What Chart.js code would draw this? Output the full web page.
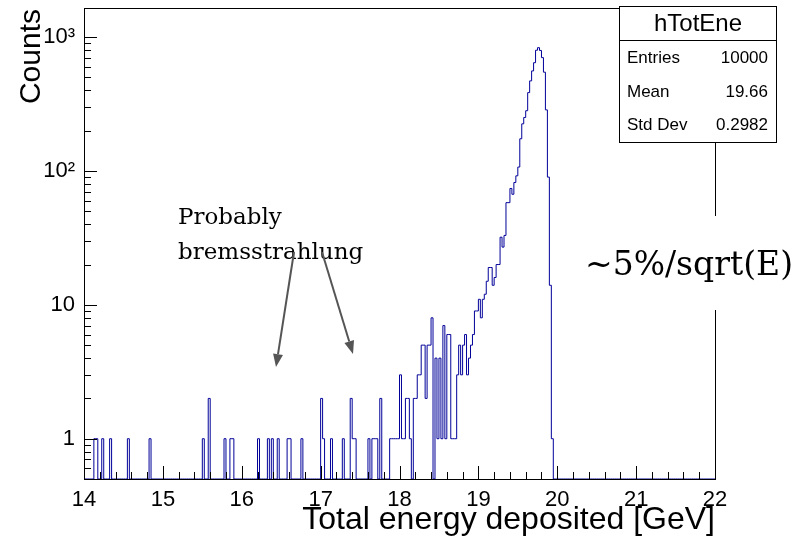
<!DOCTYPE html>
<html>
<head>
<meta charset="utf-8">
<script src="https://cdn.jsdelivr.net/npm/chart.js@4.4.1/dist/chart.umd.min.js"></script>
<style>
  html, body { margin: 0; padding: 0; background: #ffffff; }
  #wrap { width: 799px; height: 537px; position: relative; }
</style>
</head>
<body>
<div id="wrap"><canvas id="c" width="799" height="537"></canvas></div>
<script>
// Histogram binning (GeV)
const X_MIN = 14, X_MAX = 22, BIN_WIDTH = 0.025;
// Log-scale vertical range
const Y_MIN = 0.5, Y_MAX = 1650;

// Non-empty bins: index from X_MIN in steps of BIN_WIDTH, and entries in that bin
const binIndex = [
  5, 6, 9, 13, 22, 33, 60, 63, 71, 74, 75, 88, 93, 95, 98, 103, 104, 110,
  120, 121, 125, 131, 135, 136, 137, 144, 146, 147, 148, 150,
  155, 156, 157, 158, 159, 160, 161, 162, 163, 164, 165, 167, 168, 169, 170,
  171, 172, 173, 174, 175, 176, 178, 179, 180, 181, 182, 183, 184, 185, 186,
  187, 188, 189, 190, 191, 192, 193, 194, 195, 196, 197, 198, 199, 200, 201,
  202, 203, 204, 205, 206, 207, 208, 209, 210, 211, 212, 213, 214, 215, 216,
  217, 218, 219, 220, 221, 222, 223, 224, 225, 226, 227, 228, 229, 230, 231,
  232, 233, 234, 235, 236, 237
];
const binCount = [
  1, 1, 1, 1, 1, 1, 1, 2, 1, 1, 1, 1, 1, 1, 1, 1, 1, 1,
  2, 1, 1, 1, 2, 1, 1, 1, 1, 1, 1, 2,
  1, 1, 1, 1, 1, 3, 1, 1, 2, 2, 1, 2, 2, 3, 3,
  5, 5, 2, 5, 5, 8, 4, 1, 4, 1, 7, 1, 6, 6, 1,
  1, 1, 3, 5, 3, 5, 6, 3, 4, 5, 6, 9, 9, 11, 8,
  11, 12, 15, 19, 19, 14, 16, 20, 20, 32, 27, 33, 58, 58, 74,
  67, 82, 92, 107, 174, 225, 251, 282, 385, 471, 559, 644, 798, 834, 795,
  703, 547, 286, 90, 14, 1
];

const xTickValues = [14, 15, 16, 17, 18, 19, 20, 21, 22];
const yTickValues = [1, 10, 100, 1000];
const yTickLabels = ['1', '10', '10\u00B2', '10\u00B3'];

const xTitle = 'Total energy deposited [GeV]';
const yTitle = 'Counts';
const statsTitle = 'hTotEne';
const statsNames = ['Entries', 'Mean', 'Std Dev'];
const statsValues = ['10000', '19.66', '0.2982'];
const noteLines = ['Probably', 'bremsstrahlung'];
const resolutionNote = '~5%/sqrt(E)';

// Outline points: one per bin low edge, closed at the upper edge of the range
const nBins = Math.round((X_MAX - X_MIN) / BIN_WIDTH);
const countsByBin = new Array(nBins).fill(0);
binIndex.forEach((b, i) => { countsByBin[b] = binCount[i]; });
const histPoints = countsByBin.map((c, b) => ({ x: X_MIN + b * BIN_WIDTH, y: c > 0 ? c : Y_MIN }));
histPoints.push({ x: X_MAX, y: Y_MIN });

const SANS = '"Liberation Sans", Arial, Helvetica, sans-serif';
const SERIF = '"DejaVu Serif", "Liberation Serif", serif';

function arrow(ctx, x0, y0, x1, y1) {
  const a = Math.atan2(y1 - y0, x1 - x0), L = 13, W = 5;
  ctx.beginPath();
  ctx.moveTo(x0, y0);
  ctx.lineTo(x1 - L * Math.cos(a), y1 - L * Math.sin(a));
  ctx.stroke();
  ctx.beginPath();
  ctx.moveTo(x1, y1);
  ctx.lineTo(x1 - L * Math.cos(a) + W * Math.sin(a), y1 - L * Math.sin(a) - W * Math.cos(a));
  ctx.lineTo(x1 - L * Math.cos(a) - W * Math.sin(a), y1 - L * Math.sin(a) + W * Math.cos(a));
  ctx.closePath();
  ctx.fill();
}

function noEdgePadding(s) {
  s.paddingTop = 0; s.paddingBottom = 0; s.paddingLeft = 0; s.paddingRight = 0;
}

const frameAndDecor = {
  id: 'frameAndDecor',
  afterDatasetsDraw(chart) {
    const { ctx, chartArea: a, scales } = chart;
    const xs = scales.x, ys = scales.y;
    ctx.save();
    ctx.strokeStyle = '#000';
    ctx.lineWidth = 1;
    // frame
    ctx.strokeRect(Math.round(a.left) + 0.5, Math.round(a.top) + 0.5,
                   Math.round(a.right - a.left), Math.round(a.bottom - a.top));
    // x ticks, drawn inward from the bottom axis
    ctx.beginPath();
    for (let k = 0; k <= 40; k++) {
      const v = X_MIN + k * 0.2;
      const px = Math.round(xs.getPixelForValue(v)) + 0.5;
      const len = (k % 5 === 0) ? 13 : 7;
      ctx.moveTo(px, a.bottom);
      ctx.lineTo(px, a.bottom - len);
    }
    // y ticks (log), drawn inward from the left axis
    for (let d = -1; d <= 3; d++) {
      for (let m = 1; m <= 9; m++) {
        const v = m * Math.pow(10, d);
        if (v < Y_MIN || v > Y_MAX) continue;
        const py = Math.round(ys.getPixelForValue(v)) + 0.5;
        const len = (m === 1) ? 13 : 7;
        ctx.moveTo(a.left, py);
        ctx.lineTo(a.left + len, py);
      }
    }
    ctx.stroke();
    ctx.restore();
  },
  afterDraw(chart) {
    const { ctx, chartArea: a } = chart;
    ctx.save();
    ctx.fillStyle = '#000';

    // axis titles
    ctx.font = '32px ' + SANS;
    ctx.textAlign = 'right';
    ctx.textBaseline = 'alphabetic';
    ctx.fillText(xTitle, a.right, 529);
    ctx.font = '30px ' + SANS;
    ctx.save();
    ctx.translate(40, a.top + 1);
    ctx.rotate(-Math.PI / 2);
    ctx.fillText(yTitle, 0, 0);
    ctx.restore();

    // statistics box
    const bx = 619.5, by = 6.5, bw = 157, bh = 136;
    ctx.fillStyle = '#fff';
    ctx.fillRect(bx, by, bw, bh);
    ctx.strokeStyle = '#000';
    ctx.lineWidth = 1;
    ctx.strokeRect(bx, by, bw, bh);
    ctx.beginPath();
    ctx.moveTo(bx, 40.5);
    ctx.lineTo(bx + bw, 40.5);
    ctx.stroke();
    ctx.fillStyle = '#000';
    ctx.font = '24px ' + SANS;
    ctx.textAlign = 'center';
    ctx.textBaseline = 'middle';
    ctx.fillText(statsTitle, bx + bw / 2, 24);
    ctx.font = '17px ' + SANS;
    const rowY = [58, 92, 125];
    statsNames.forEach((n, i) => {
      ctx.textAlign = 'left';
      ctx.fillText(n, 627, rowY[i]);
      ctx.textAlign = 'right';
      ctx.fillText(statsValues[i], 768, rowY[i]);
    });

    // resolution note, on a white patch over the frame edge
    ctx.font = '33px ' + SERIF;
    ctx.textAlign = 'left';
    ctx.textBaseline = 'middle';
    const w = ctx.measureText(resolutionNote).width;
    ctx.fillStyle = '#fff';
    ctx.fillRect(583, 216, w + 6, 94);
    ctx.fillStyle = '#000';
    ctx.fillText(resolutionNote, 585, 266);

    // bremsstrahlung note with arrows
    ctx.font = '23px ' + SERIF;
    ctx.fillText(noteLines[0], 178, 218);
    ctx.fillText(noteLines[1], 178, 253);
    ctx.strokeStyle = '#555';
    ctx.fillStyle = '#555';
    ctx.lineWidth = 2;
    arrow(ctx, 294, 252, 276, 367);
    arrow(ctx, 322, 252, 353, 354);
    ctx.restore();
  }
};

new Chart(document.getElementById('c'), {
  type: 'line',
  data: {
    datasets: [{
      data: histPoints,
      stepped: true,
      borderColor: '#000099',
      borderWidth: 1,
      pointRadius: 0,
      fill: false
    }]
  },
  options: {
    responsive: false,
    animation: false,
    devicePixelRatio: 1,
    layout: { padding: { left: 0, top: 8, right: 84, bottom: 0 } },
    plugins: { legend: { display: false }, tooltip: { enabled: false } },
    scales: {
      x: {
        type: 'linear', min: X_MIN, max: X_MAX,
        grid: { display: false, drawTicks: false },
        border: { display: false },
        afterBuildTicks: s => { s.ticks = xTickValues.map(v => ({ value: v })); },
        afterFit: s => { s.height = 58; noEdgePadding(s); },
        ticks: { color: '#000', font: { family: SANS, size: 22 }, padding: 8, maxRotation: 0,
                 callback: v => String(v) }
      },
      y: {
        type: 'logarithmic', min: Y_MIN, max: Y_MAX,
        grid: { display: false, drawTicks: false },
        border: { display: false },
        afterBuildTicks: s => { s.ticks = yTickValues.map(v => ({ value: v })); },
        afterFit: s => { s.width = 84; noEdgePadding(s); },
        ticks: { color: '#000', font: { family: SANS, size: 22 }, padding: 9,
                 callback: v => yTickLabels[yTickValues.indexOf(v)] }
      }
    }
  },
  plugins: [frameAndDecor]
});
</script>
</body>
</html>
